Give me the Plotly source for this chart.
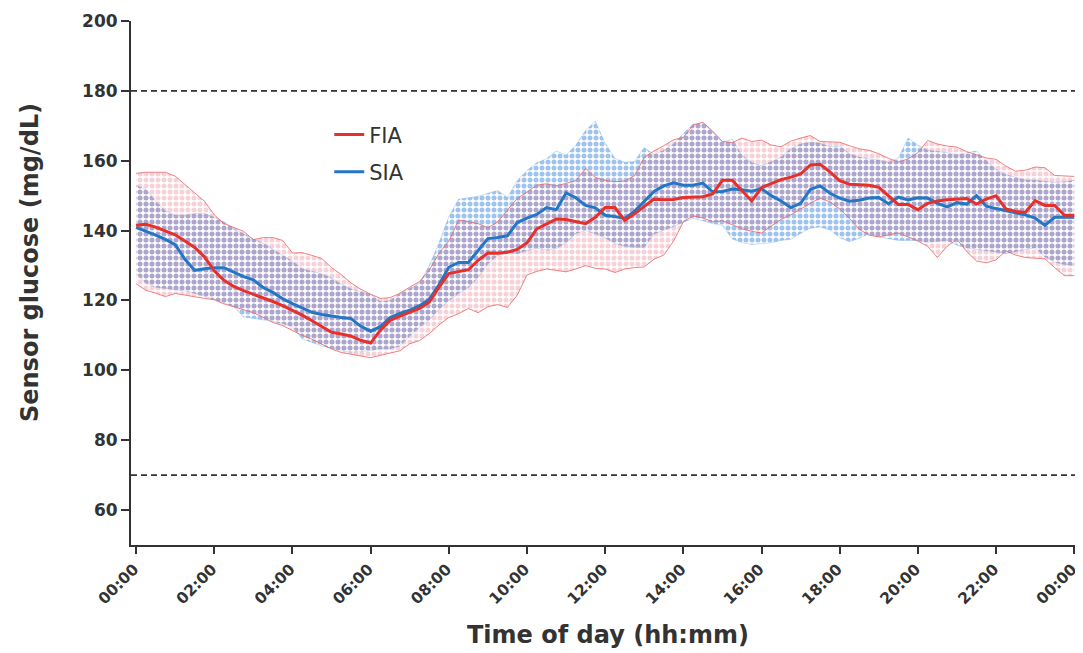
import plotly.graph_objects as go

# time grid: every 15 minutes from 00:00 to 24:00 (hours)
hours = [k * 0.25 for k in range(97)]

fia_mean = [141.5, 141.8, 141.0, 139.8, 138.8, 137.0, 135.2, 132.5, 128.5, 125.8, 124.0, 122.8, 121.8, 120.7, 119.7, 118.5,
            117.2, 115.8, 114.2, 112.6, 110.9, 110.4, 109.8, 108.6, 107.8, 111.5, 114.3, 115.5, 116.5, 117.7, 119.5, 123.8,
            127.7, 128.2, 128.8, 131.5, 133.6, 133.5, 133.8, 134.6, 136.5, 140.5, 142.0, 143.3, 143.2, 142.6, 142.0, 143.8,
            146.6, 146.6, 142.9, 144.8, 147.0, 149.0, 148.8, 148.9, 149.5, 149.5, 149.7, 150.5, 154.4, 154.4, 151.5, 148.5,
            152.3, 153.5, 154.6, 155.3, 156.2, 158.8, 159.0, 156.8, 154.3, 153.3, 153.2, 153.0, 152.4, 150.0, 147.5, 147.5,
            146.0, 147.8, 148.5, 148.8, 148.9, 149.2, 147.6, 149.0, 150.0, 146.2, 145.5, 145.2, 148.6, 147.2, 147.2, 144.4,
            144.4]
fia_upper = [156.4, 156.7, 156.7, 156.7, 155.6, 153.3, 150.8, 148.4, 144.5, 142.0, 140.8, 139.8, 137.4, 138.0, 138.0, 137.2,
             133.6, 133.7, 132.9, 132.0, 129.4, 127.4, 125.0, 123.2, 121.8, 120.6, 120.8, 122.1, 123.8, 125.4, 128.7, 133.5,
             137.0, 143.0, 142.6, 142.0, 140.8, 142.5, 145.9, 149.2, 151.0, 153.0, 153.4, 152.8, 153.5, 154.3, 157.8, 155.2,
             154.4, 154.0, 154.2, 155.7, 161.0, 162.8, 164.3, 166.0, 166.7, 170.2, 171.0, 168.5, 165.5, 165.2, 166.5, 165.5,
             165.9, 164.5, 164.0, 165.6, 166.5, 167.2, 165.5, 165.3, 165.3, 164.3, 163.4, 163.0, 162.0, 160.7, 159.6, 160.5,
             162.3, 165.8, 164.8, 164.2, 163.9, 162.6, 161.6, 160.8, 160.4, 158.5, 157.0, 157.3, 158.2, 158.0, 155.8, 155.6,
             155.5]
fia_lower = [124.8, 122.9, 122.1, 121.1, 122.0, 121.5, 120.9, 120.6, 120.2, 119.0, 118.2, 117.3, 116.5, 115.2, 113.7, 112.8,
             111.4, 110.0, 108.9, 107.4, 106.1, 105.1, 104.6, 104.0, 103.6, 104.3, 104.9, 105.6, 107.6, 108.5, 110.5, 113.0,
             115.1, 116.2, 117.7, 116.5, 118.2, 118.8, 118.0, 121.5, 127.3, 128.3, 129.0, 128.6, 128.2, 129.0, 130.0, 129.2,
             129.0, 128.0, 129.0, 129.4, 129.6, 131.8, 133.0, 137.0, 142.5, 144.2, 143.6, 142.5, 142.8, 141.7, 140.5, 139.8,
             139.3, 141.3, 143.2, 144.5, 146.2, 147.8, 149.3, 148.2, 146.2, 143.5, 140.4, 138.7, 138.2, 138.8, 139.3, 138.2,
             137.0, 135.5, 132.3, 135.5, 137.5, 134.0, 131.3, 130.8, 131.6, 134.2, 133.0, 132.3, 132.1, 131.9, 129.4, 127.1,
             127.1]

sia_mean = [140.9, 139.9, 138.7, 137.5, 136.0, 131.8, 128.6, 129.1, 129.4, 129.4, 128.0, 126.8, 125.9, 123.7, 122.3, 120.5,
            119.1, 117.8, 116.6, 116.0, 115.5, 115.1, 114.8, 112.6, 111.2, 112.5, 115.1, 116.3, 117.2, 118.5, 120.3, 124.5,
            129.5, 130.9, 130.9, 134.3, 137.7, 138.0, 138.5, 142.3, 143.6, 144.6, 146.6, 146.0, 150.8, 149.4, 147.2, 146.5,
            144.4, 144.0, 143.5, 145.5, 148.2, 151.2, 152.8, 153.7, 153.0, 153.0, 153.6, 151.1, 151.2, 151.9, 151.7, 151.3,
            152.0, 150.0, 148.5, 146.6, 147.8, 151.8, 152.8, 150.7, 149.3, 148.4, 148.7, 149.3, 149.5, 147.7, 149.6, 148.8,
            149.4, 149.3, 147.8, 146.8, 148.0, 147.6, 150.0, 147.0, 146.3, 145.8, 145.1, 144.5, 143.6, 141.5, 143.8, 143.8,
            143.8]
sia_upper = [153.0, 151.8, 148.5, 145.6, 144.4, 144.4, 144.9, 144.9, 143.8, 142.5, 140.5, 139.0, 137.6, 136.4, 134.7, 132.9,
             131.2, 129.1, 128.3, 127.6, 126.4, 124.6, 123.3, 122.6, 121.8, 119.6, 120.0, 121.9, 123.4, 124.9, 130.0, 136.5,
             144.0, 149.0, 149.4, 149.8, 150.7, 151.5, 149.5, 154.3, 157.2, 159.4, 160.6, 162.8, 161.6, 164.5, 168.7, 171.3,
             165.0, 160.7, 159.6, 159.8, 163.8, 161.8, 163.0, 164.8, 167.8, 170.5, 170.8, 168.2, 165.2, 166.2, 161.5, 159.5,
             158.5, 159.8, 161.0, 163.5, 164.8, 165.3, 165.0, 164.0, 164.2, 162.0, 161.0, 160.5, 160.2, 159.6, 160.8, 166.5,
             164.5, 163.0, 162.7, 162.3, 161.7, 162.3, 162.8, 160.0, 157.5, 156.0, 155.2, 154.5, 154.4, 154.2, 153.8, 154.0,
             154.4]
sia_lower = [127.7, 125.0, 123.8, 123.5, 123.2, 122.7, 122.1, 121.3, 120.3, 119.3, 118.3, 115.3, 114.9, 114.6, 114.0, 113.4,
             112.5, 109.0, 108.0, 107.0, 106.3, 105.6, 105.2, 105.3, 105.7, 106.2, 106.2, 107.0, 109.8, 112.3, 114.5, 117.5,
             120.0, 122.0, 123.7, 126.6, 130.5, 132.9, 133.7, 133.4, 134.3, 134.9, 134.4, 134.9, 136.5, 139.2, 140.0, 139.1,
             137.9, 136.3, 135.5, 135.2, 135.2, 139.0, 140.1, 141.2, 142.4, 143.5, 142.8, 142.0, 141.5, 137.6, 136.6, 136.0,
             136.3, 136.5, 137.2, 137.5, 139.2, 140.7, 141.0, 140.2, 138.0, 136.8, 137.8, 139.0, 138.2, 137.6, 137.2, 137.2,
             137.1, 136.7, 136.9, 137.2, 135.8, 135.0, 134.6, 134.3, 133.9, 133.4, 133.9, 134.4, 135.1, 132.5, 131.0, 130.3,
             130.0]

tick_vals = list(range(0, 25, 2))
tick_text = ["00:00", "02:00", "04:00", "06:00", "08:00", "10:00", "12:00",
             "14:00", "16:00", "18:00", "20:00", "22:00", "00:00"]
y_ticks = [60, 80, 100, 120, 140, 160, 180, 200]
ref_lines = [70, 180]

RED = "#e8302a"
BLUE = "#2477c4"
TXT = "#333333"
FONT = "DejaVu Sans, Verdana, sans-serif"

fig = go.Figure()

# SIA band
fig.add_trace(go.Scatter(x=hours, y=sia_lower, mode="lines", line=dict(width=0.5, color="rgba(70,145,215,0.5)"),
                         showlegend=False, hoverinfo="skip", legendgroup="band_s"))
fig.add_trace(go.Scatter(x=hours, y=sia_upper, mode="lines", fill="tonexty",
                         line=dict(width=0.5, color="rgba(70,145,215,0.5)"),
                         fillcolor="rgba(150,195,238,0.5)",
                         fillpattern=dict(shape=".", fgcolor="rgba(40,125,215,0.9)", bgcolor="rgba(0,0,0,0)",
                                          size=6, solidity=0.55, fillmode="overlay"),
                         showlegend=False, hoverinfo="skip", legendgroup="band_s"))
# FIA band
fig.add_trace(go.Scatter(x=hours, y=fia_lower, mode="lines", line=dict(width=0.9, color="rgba(238,100,100,0.9)"),
                         showlegend=False, hoverinfo="skip", legendgroup="band_f"))
fig.add_trace(go.Scatter(x=hours, y=fia_upper, mode="lines", fill="tonexty",
                         line=dict(width=0.9, color="rgba(238,100,100,0.9)"),
                         fillcolor="rgba(250,180,180,0.25)",
                         fillpattern=dict(shape=".", fgcolor="rgba(220,70,100,0.5)", bgcolor="rgba(0,0,0,0)",
                                          size=6, solidity=0.55, fillmode="overlay"),
                         showlegend=False, hoverinfo="skip", legendgroup="band_f"))

fig.add_trace(go.Scatter(x=hours, y=sia_mean, mode="lines", name="SIA", line=dict(color=BLUE, width=3),
                         legendrank=2, legendgroup="sia"))
fig.add_trace(go.Scatter(x=hours, y=fia_mean, mode="lines", name="FIA", line=dict(color=RED, width=3),
                         legendrank=1, legendgroup="fia"))

for yv in ref_lines:
    fig.add_shape(type="line", xref="paper", yref="y", x0=0, x1=1, y0=yv, y1=yv,
                  line=dict(color=TXT, width=1.6, dash="6px,4px"))

# the page body adds an 8px margin, so the figure is sized and placed to fill the window
fig.add_annotation(text="<b>Sensor glucose (mg/dL)</b>", xref="paper", yref="paper",
                   x=-0.107, y=0.54, xanchor="center", yanchor="middle", textangle=-90, showarrow=False,
                   font=dict(size=24, family=FONT, color=TXT))
fig.add_annotation(text="<b>Time of day (hh:mm)</b>", xref="paper", yref="paper",
                   x=0.505, y=-0.172, xanchor="center", yanchor="middle", showarrow=False,
                   font=dict(size=24, family=FONT, color=TXT))

fig.update_layout(
    width=1075, height=645,
    margin=dict(l=123, r=8, t=13, b=108, autoexpand=False),
    paper_bgcolor="white", plot_bgcolor="white",
    font=dict(family=FONT, color=TXT),
    showlegend=True,
    legend=dict(x=0.21, y=0.822, xanchor="left", yanchor="top", bgcolor="rgba(0,0,0,0)",
                traceorder="grouped", font=dict(size=21, family=FONT, color=TXT),
                itemwidth=30, tracegroupgap=7),
    xaxis=dict(range=[-0.13, 24.02], tickmode="array", tickvals=tick_vals, ticktext=tick_text,
               tickangle=-45, tickfont=dict(size=15.5, family=FONT, weight="bold", color=TXT),
               ticklabeloverflow="allow", ticklabelshift=-2, automargin=False,
               showline=True, linecolor=TXT, linewidth=2, ticks="outside", ticklen=7, tickwidth=2,
               tickcolor=TXT, showgrid=False, zeroline=False),
    yaxis=dict(range=[50, 200], tickmode="array", tickvals=y_ticks, automargin=False,
               tickfont=dict(size=17, family=FONT, weight="bold", color=TXT),
               showline=True, linecolor=TXT, linewidth=2, ticks="outside", ticklen=8, tickwidth=2,
               tickcolor=TXT, showgrid=False, zeroline=False),
)

fig.write_html("out.html")
